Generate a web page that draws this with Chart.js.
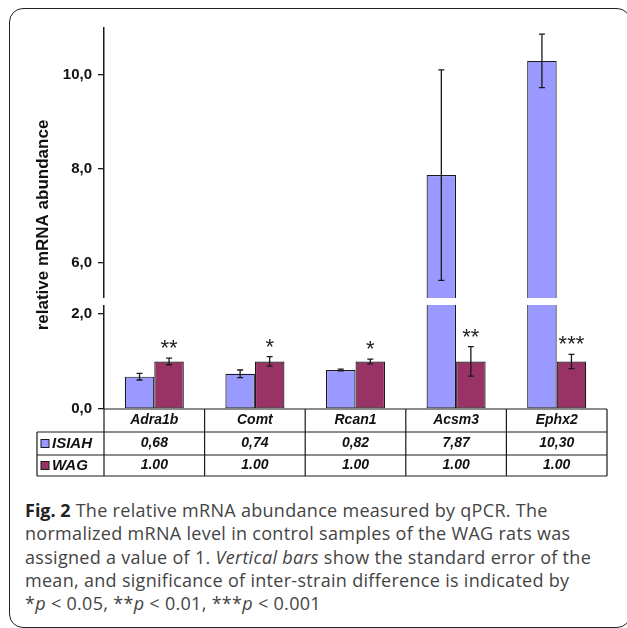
<!DOCTYPE html>
<html>
<head>
<meta charset="utf-8">
<script src="https://cdn.jsdelivr.net/npm/chart.js@4.4.1/dist/chart.umd.min.js"></script>
<style>
  html, body { margin: 0; padding: 0; background: #fff; }
  body { width: 627px; height: 628px; position: relative; overflow: hidden; }
  #frame {
    position: absolute; left: 9px; top: 8px; width: 622px; height: 620px;
    border: 1.5px solid #222; border-radius: 14px; box-sizing: border-box;
  }
  #chart { position: absolute; left: 0; top: 0; }
  #caption {
    position: absolute; left: 25px; top: 499px;
    font-family: "Open Sans", sans-serif; font-size: 18px; line-height: 23.3px;
    letter-spacing: 0.3px;
    color: #444; white-space: nowrap;
  }
  #caption b { color: #222; letter-spacing: 0; }
</style>
</head>
<body>
<div id="frame"></div>
<canvas id="chart" width="627" height="490"></canvas>
<div id="caption">
  <b>Fig. 2</b> The relative mRNA abundance measured by qPCR. The<br>
  normalized mRNA level in control samples of the WAG rats was<br>
  assigned a value of 1. <i>Vertical bars</i> show the standard error of the<br>
  mean, and significance of inter-strain difference is indicated by<br>
  *<i>p</i> &lt; 0.05, **<i>p</i> &lt; 0.01, ***<i>p</i> &lt; 0.001
</div>
<script>
// data
const genes = ['Adra1b', 'Comt', 'Rcan1', 'Acsm3', 'Ephx2'];
const isiahValues = [0.68, 0.74, 0.82, 7.87, 10.30];
const wagValues = [1.00, 1.00, 1.00, 1.00, 1.00];
const isiahErrors = [0.07, 0.08, 0.02, 2.24, 0.57];
const wagErrors = [0.07, 0.10, 0.05, 0.31, 0.15];
const significance = ['**', '*', '*', '**', '***'];

// broken y axis: two ranges
const lowerRange = [0, 2.26];
const upperRange = [5.18, 11.0];
const lowerTicks = [0, 2];
const upperTicks = [6, 8, 10];

const colors = {
  isiah: '#9999ff',
  wag: '#993366',
  line: '#1a1a1a'
};

const FONT = '"Liberation Sans", Arial, sans-serif';

function fmtComma(v, d) {
  return v.toFixed(d).replace('.', ',');
}

// clip each dataset to the area of its own y scale
const scaleClip = {
  id: 'scaleClip',
  beforeDatasetDraw(chart, args) {
    const ys = args.meta.yScale;
    const ctx = chart.ctx;
    ctx.save();
    ctx.beginPath();
    ctx.rect(chart.chartArea.left, ys.top, chart.chartArea.right - chart.chartArea.left, ys.bottom - ys.top);
    ctx.clip();
  },
  afterDatasetDraw(chart) {
    chart.ctx.restore();
  }
};

// error bars, axis break and significance stars
const extras = {
  id: 'extras',
  afterDatasetsDraw(chart) {
    const ctx = chart.ctx;
    const lower = chart.scales.yLow;
    const upper = chart.scales.yHigh;
    const isiahLow = chart.getDatasetMeta(0);
    const wagLow = chart.getDatasetMeta(1);

    const drawErr = (x, v, e, scale) => {
      const top = scale.getPixelForValue(v + e);
      const bot = scale.getPixelForValue(v - e);
      ctx.beginPath();
      ctx.moveTo(x, top); ctx.lineTo(x, bot);
      ctx.moveTo(x - 3, top); ctx.lineTo(x + 3, top);
      ctx.moveTo(x - 3, bot); ctx.lineTo(x + 3, bot);
      ctx.stroke();
      return top;
    };

    ctx.save();
    ctx.strokeStyle = colors.line;
    ctx.lineWidth = 1.3;
    genes.forEach((g, i) => {
      const xi = isiahLow.data[i].x;
      const sc = isiahValues[i] > lowerRange[1] ? upper : lower;
      drawErr(xi, isiahValues[i], isiahErrors[i], sc);
    });

    // white band for the axis break
    const gapY = (upper.bottom + lower.top) / 2;
    ctx.fillStyle = '#fff';
    ctx.fillRect(chart.chartArea.left - 6, gapY - 3.5, chart.chartArea.right - chart.chartArea.left + 6, 7);

    ctx.font = '22px ' + FONT;
    ctx.fillStyle = '#222';
    ctx.textAlign = 'center';
    ctx.textBaseline = 'middle';
    genes.forEach((g, i) => {
      const xw = wagLow.data[i].x;
      const top = drawErr(xw, wagValues[i], wagErrors[i], lower);
      ctx.fillText(significance[i], xw, top - 9);
    });
    ctx.restore();
  },
  afterDraw(chart) {
    const ctx = chart.ctx;
    const area = chart.chartArea;
    const x = chart.scales.x;
    const step = (x.right - x.left) / genes.length;
    const rows = [area.bottom, area.bottom + 23, area.bottom + 46, area.bottom + 67];
    const legendLeft = 37;

    ctx.save();
    // y axis title
    ctx.translate(43, 225);
    ctx.rotate(-Math.PI / 2);
    ctx.font = 'bold 17px ' + FONT;
    ctx.fillStyle = '#111';
    ctx.textAlign = 'center';
    ctx.textBaseline = 'middle';
    ctx.fillText('relative mRNA abundance', 0, 0);
    ctx.restore();

    // data table
    ctx.save();
    ctx.strokeStyle = colors.line;
    ctx.lineWidth = 1.2;
    ctx.beginPath();
    ctx.moveTo(x.left, rows[0]); ctx.lineTo(x.right, rows[0]);
    for (let r = 1; r < rows.length; r++) {
      ctx.moveTo(legendLeft, rows[r]); ctx.lineTo(x.right, rows[r]);
    }
    ctx.moveTo(legendLeft, rows[1]); ctx.lineTo(legendLeft, rows[3]);
    for (let c = 0; c <= genes.length; c++) {
      const cx = x.left + c * step;
      ctx.moveTo(cx, rows[0]); ctx.lineTo(cx, rows[3]);
    }
    ctx.stroke();

    ctx.font = 'italic bold 14px ' + FONT;
    ctx.fillStyle = '#111';
    ctx.textAlign = 'center';
    ctx.textBaseline = 'middle';
    genes.forEach((g, i) => {
      const cx = x.getPixelForValue(i);
      ctx.fillText(g, cx, (rows[0] + rows[1]) / 2);
      ctx.fillText(fmtComma(isiahValues[i], 2), cx, (rows[1] + rows[2]) / 2);
      ctx.fillText(wagValues[i].toFixed(2), cx, (rows[2] + rows[3]) / 2);
    });

    // legend keys
    const keys = [['ISIAH', colors.isiah], ['WAG', colors.wag]];
    ctx.textAlign = 'left';
    ctx.font = 'italic bold 15px ' + FONT;
    keys.forEach((k, r) => {
      const cy = (rows[r + 1] + rows[r + 2]) / 2;
      ctx.fillStyle = k[1];
      ctx.fillRect(41, cy - 4, 8, 8);
      ctx.lineWidth = 1;
      ctx.strokeRect(41, cy - 4, 8, 8);
      ctx.fillStyle = '#111';
      ctx.fillText(k[0], 52, cy + 0.5);
    });
    ctx.restore();
  }
};

function yScale(range, ticks, weight) {
  return {
    type: 'linear',
    position: 'left',
    stack: 'broken',
    stackWeight: weight,
    stacked: false,
    min: range[0],
    max: range[1],
    afterBuildTicks: (scale) => {
      scale.ticks = ticks.map(v => ({ value: v }));
    },
    afterFit: (scale) => {
      scale.width = 104;
    },
    grid: {
      drawOnChartArea: false,
      drawTicks: true,
      tickLength: 6,
      color: colors.line,
      lineWidth: 1.3
    },
    border: { display: true, color: colors.line, width: 1.5 },
    ticks: {
      padding: 6,
      color: '#111',
      font: { family: FONT, size: 15, weight: 'bold' },
      callback: (v) => fmtComma(v, 1)
    }
  };
}

const chart = new Chart(document.getElementById('chart'), {
  type: 'bar',
  data: {
    labels: genes,
    datasets: [
      {
        label: 'ISIAH',
        data: isiahValues,
        yAxisID: 'yLow',
        stack: 'isiah',
        backgroundColor: colors.isiah,
        borderColor: colors.line,
        borderWidth: 1.2,
        borderSkipped: false
      },
      {
        label: 'WAG',
        data: wagValues,
        yAxisID: 'yLow',
        stack: 'wag',
        backgroundColor: colors.wag,
        borderColor: colors.line,
        borderWidth: 1.2,
        borderSkipped: false
      },
      {
        label: 'ISIAH',
        data: isiahValues,
        yAxisID: 'yHigh',
        stack: 'isiah',
        backgroundColor: colors.isiah,
        borderColor: colors.line,
        borderWidth: 1.2,
        borderSkipped: false
      }
    ]
  },
  options: {
    responsive: false,
    animation: false,
    devicePixelRatio: 1,
    categoryPercentage: 0.587,
    barPercentage: 1,
    layout: { padding: { left: 0, top: 28, right: 20, bottom: 81 } },
    plugins: {
      legend: { display: false },
      tooltip: { enabled: false }
    },
    scales: {
      x: { display: false },
      yLow: yScale(lowerRange, lowerTicks, 107.5),
      yHigh: yScale(upperRange, upperTicks, 273.5)
    }
  },
  plugins: [scaleClip, extras]
});
</script>
</body>
</html>
